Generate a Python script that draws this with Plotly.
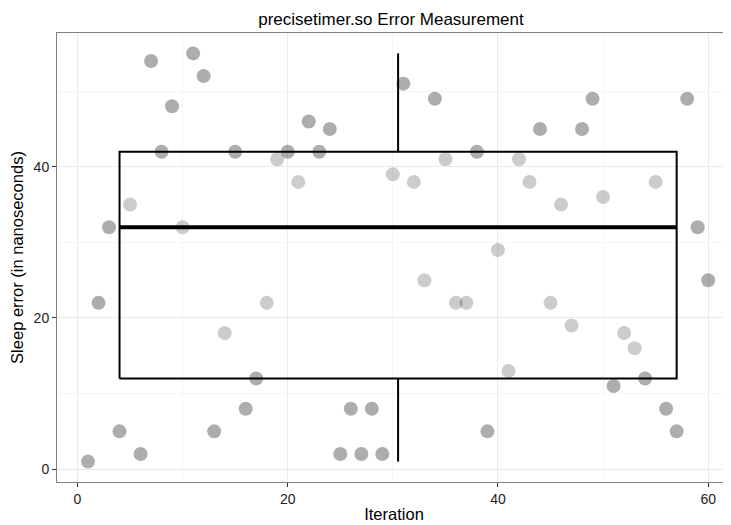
import numpy as np
import plotly.graph_objects as go

iterations = list(range(1, 61))
sleep_error = [1, 22, 32, 5, 35, 2, 54, 42, 48, 32,
               55, 52, 5, 18, 42, 8, 12, 22, 41, 42,
               38, 46, 42, 45, 2, 8, 2, 8, 2, 39,
               51, 38, 25, 49, 41, 22, 22, 42, 5, 29,
               13, 41, 38, 45, 22, 35, 19, 45, 49, 36,
               11, 18, 16, 12, 38, 8, 5, 49, 32, 25]
x_ticks = [0, 20, 40, 60]
y_ticks = [0, 20, 40]

BOX_HALF_WIDTH = 26.5

x = np.array(iterations, dtype=float)
y = np.array(sleep_error, dtype=float)

q1, med, q3 = np.percentile(y, [25, 50, 75])
iqr = q3 - q1
w_lo = y[y >= q1 - 1.5 * iqr].min()
w_hi = y[y <= q3 + 1.5 * iqr].max()
xc = x.mean()
xl, xr = xc - BOX_HALF_WIDTH, xc + BOX_HALF_WIDTH

inside = (x >= xl) & (x <= xr) & (y > q1) & (y < q3)

fig = go.Figure()
fig.add_trace(go.Scatter(x=x[~inside], y=y[~inside], mode="markers",
                         marker=dict(size=14, color="rgba(0,0,0,0.32)", line=dict(width=0)),
                         showlegend=False, hoverinfo="x+y"))
fig.add_trace(go.Scatter(x=x[inside], y=y[inside], mode="markers",
                         marker=dict(size=14, color="rgba(0,0,0,0.20)", line=dict(width=0)),
                         showlegend=False, hoverinfo="x+y"))
# box outline
fig.add_trace(go.Scatter(x=[xl, xr, xr, xl, xl], y=[q1, q1, q3, q3, q1], mode="lines",
                         line=dict(color="black", width=2), showlegend=False, hoverinfo="skip"))
# whiskers
fig.add_trace(go.Scatter(x=[xc, xc, None, xc, xc], y=[w_lo, q1, None, q3, w_hi], mode="lines",
                         line=dict(color="black", width=2), showlegend=False, hoverinfo="skip"))
# median
fig.add_trace(go.Scatter(x=[xl, xr], y=[med, med], mode="lines",
                         line=dict(color="black", width=4), showlegend=False, hoverinfo="skip"))

W, H = 723, 517
font = "Liberation Sans, Arial, Helvetica, sans-serif"
fig.update_layout(
    width=W, height=H,
    margin=dict(l=49, r=0, t=25, b=43),
    paper_bgcolor="white", plot_bgcolor="white",
    font=dict(family=font, color="black"),
    title=dict(text="precisetimer.so Error Measurement", x=(49 + W) / 2 / W - 3 / W, xanchor="center",
               y=1 - 11 / H, yanchor="middle", font=dict(size=17, color="black")),
)
fig.update_xaxes(
    range=[-1.95, 62.17], tickvals=x_ticks, ticks="outside", ticklen=4, tickcolor="#333333",
    tickfont=dict(size=14, color="#222222"), automargin=False,
    showgrid=True, gridcolor="#ebebeb", gridwidth=1,
    minor=dict(dtick=10, tick0=0, showgrid=True, gridcolor="#f5f5f5", gridwidth=1),
    showline=True, linecolor="#7f7f7f", linewidth=1, mirror=True, zeroline=False,
    title=dict(text="Iteration", font=dict(size=16.5, color="black"), standoff=2),
)
fig.update_yaxes(
    range=[-1.7, 57.7], tickvals=y_ticks, ticks="outside", ticklen=4, tickcolor="#333333",
    tickfont=dict(size=14, color="#222222"), automargin=False,
    showgrid=True, gridcolor="#ebebeb", gridwidth=1,
    minor=dict(dtick=10, tick0=0, showgrid=True, gridcolor="#f5f5f5", gridwidth=1),
    showline=True, linecolor="#7f7f7f", linewidth=1, mirror=False, zeroline=False,
    title=dict(text="Sleep error (in nanoseconds)", font=dict(size=16.5, color="black"), standoff=5),
)

fig.write_html("out.html")
